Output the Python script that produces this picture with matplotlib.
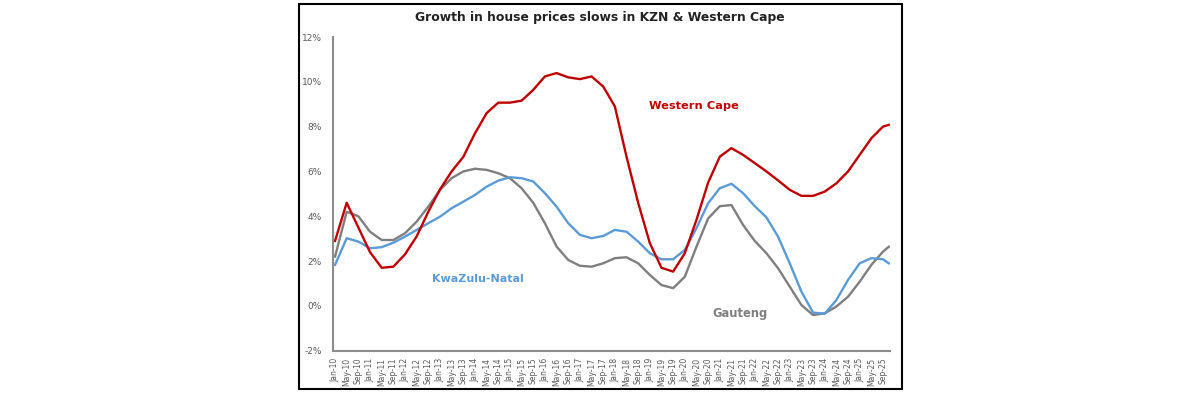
import matplotlib.pyplot as plt
from matplotlib.patches import Rectangle
from matplotlib.ticker import FuncFormatter

# months since Jan-10, one reading every 4 months plus the last point (Nov-25)
months = list(range(0, 189, 4)) + [190]
tick_months = list(range(0, 189, 4))
tick_labels = [m + '-' + str(y) for y in range(10, 26) for m in ['Jan', 'May', 'Sep']]

western_cape = [2.9, 4.6, 3.5, 2.4, 1.7, 1.75, 2.3, 3.1, 4.2, 5.2, 6.0, 6.65,
                7.7, 8.6, 9.07, 9.07, 9.16, 9.64, 10.24, 10.39, 10.2, 10.12, 10.24, 9.79,
                8.9, 6.66, 4.6, 2.8, 1.7, 1.53, 2.35, 3.84, 5.5, 6.66, 7.04, 6.74,
                6.37, 6.0, 5.6, 5.18, 4.91, 4.91, 5.1, 5.47, 6.0, 6.74, 7.48, 8.0, 8.08]
gauteng = [2.2, 4.2, 4.0, 3.31, 2.94, 2.94, 3.24, 3.76, 4.43, 5.17, 5.7, 6.0,
           6.12, 6.07, 5.92, 5.7, 5.25, 4.6, 3.69, 2.65, 2.05, 1.79, 1.75, 1.9,
           2.13, 2.17, 1.9, 1.38, 0.93, 0.79, 1.3, 2.64, 3.9, 4.45, 4.5, 3.61,
           2.9, 2.35, 1.68, 0.86, 0.04, -0.41, -0.33, -0.03, 0.41, 1.08, 1.83, 2.42, 2.64]
kwazulu_natal = [1.83, 3.02, 2.87, 2.57, 2.62, 2.82, 3.09, 3.39, 3.69, 3.98, 4.36, 4.65,
                 4.95, 5.32, 5.59, 5.74, 5.7, 5.55, 5.03, 4.43, 3.69, 3.17, 3.02, 3.12,
                 3.39, 3.31, 2.87, 2.35, 2.08, 2.08, 2.5, 3.47, 4.58, 5.25, 5.45, 5.03,
                 4.45, 3.95, 3.09, 1.9, 0.64, -0.3, -0.35, 0.26, 1.16, 1.9, 2.13, 2.08, 1.9]

fig = plt.figure(figsize=(12, 3.93), dpi=100)

# black frame around the chart
fig.patches.append(Rectangle((299 / 1200, 1 - 389 / 393), 603 / 1200, 385 / 393,
                             transform=fig.transFigure, fill=False, edgecolor='black', linewidth=1.5))

ax = fig.add_axes([333 / 1200, 1 - 350.7 / 393, 557 / 1200, 313.7 / 393])

ax.plot(months, gauteng, color='#7F7F7F', linewidth=1.7, solid_joinstyle='round')
ax.plot(months, kwazulu_natal, color='#5B9BD5', linewidth=1.7, solid_joinstyle='round')
ax.plot(months, western_cape, color='#C00000', linewidth=1.7, solid_joinstyle='round')

ax.set_xlim(-0.7, 190.4)
ax.set_ylim(-2, 12)
ax.set_yticks(range(-2, 13, 2))
ax.yaxis.set_major_formatter(FuncFormatter(lambda v, p: '%d%%' % v))
ax.set_xticks(tick_months)
ax.set_xticklabels(tick_labels, rotation=90)
ax.tick_params(axis='both', length=0, colors='#595959')
ax.tick_params(axis='y', labelsize=6.5, pad=8)
ax.tick_params(axis='x', labelsize=5.5, pad=5)

for s in ['top', 'right']:
    ax.spines[s].set_visible(False)
for s in ['left', 'bottom']:
    ax.spines[s].set_color('#8C8C8C')
    ax.spines[s].set_linewidth(1.5)

ax.text(123, 8.9, 'Western Cape', color='#C00000', fontsize=8.2, fontweight='bold', ha='center', va='center')
ax.text(49, 1.2, 'KwaZulu-Natal', color='#5B9BD5', fontsize=8, fontweight='bold', ha='center', va='center')
ax.text(139, -0.35, 'Gauteng', color='#7F7F7F', fontsize=8.3, fontweight='bold', ha='center', va='center')

fig.text(0.5, 1 - 18 / 393, 'Growth in house prices slows in KZN & Western Cape',
         ha='center', va='center', fontsize=8.9, fontweight='bold', color='#222222')

fig.savefig('out.png', dpi=100)
